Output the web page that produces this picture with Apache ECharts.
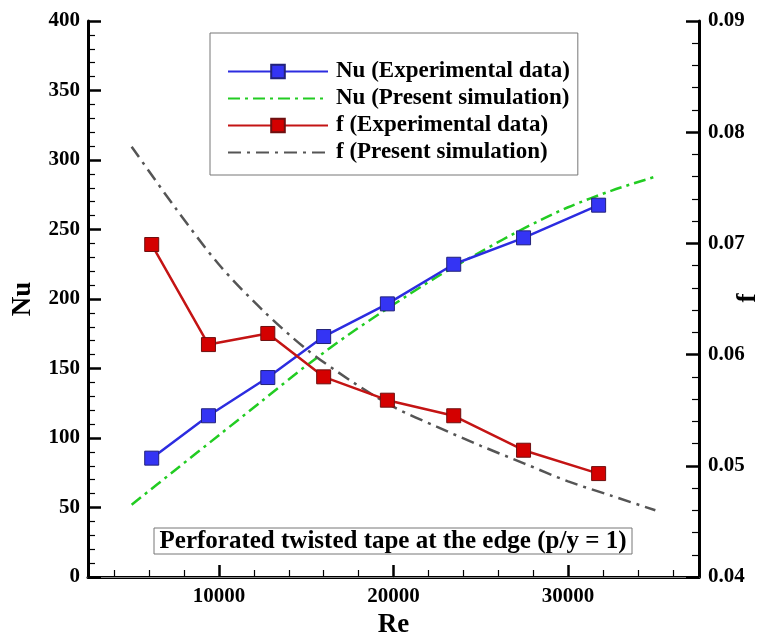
<!DOCTYPE html>
<html>
<head>
<meta charset="utf-8">
<title>Nu / f vs Re</title>
<script src="https://cdn.jsdelivr.net/npm/echarts@6/dist/echarts.min.js"></script>
<style>
html, body { margin: 0; padding: 0; background: #fff; }
#chart { width: 766px; height: 633px; }
</style>
</head>
<body>
<div id="chart"></div>
<script>
// experimental points
var reExp = [6150, 9400, 12800, 16000, 19650, 23450, 27450, 31750];
var nuExp = [85.5, 116, 143.5, 173, 196.5, 225, 244, 267.5];
var fExp = [0.0699, 0.0609, 0.0619, 0.0580, 0.0559, 0.0545, 0.0514, 0.0493];
// simulation curves
var reSim = [5000, 7500, 10000, 12500, 15000, 17500, 20000, 22500, 25000, 27500, 30000, 32500, 35000];
var nuSim = [52, 77, 102, 127, 152, 175, 196, 216, 234, 251, 266, 278, 288];
var fSim = [0.0787, 0.0732, 0.0681, 0.0640, 0.0605, 0.0577, 0.0553, 0.0535, 0.0518, 0.0502, 0.0486, 0.0473, 0.0460];
// axis ticks
var reMajor = [10000, 20000, 30000];
var reMinor = [4000, 6000, 8000, 12000, 14000, 16000, 18000, 22000, 24000, 26000, 28000, 32000, 34000, 36000];
var nuMinor = [10, 20, 30, 40, 60, 70, 80, 90, 110, 120, 130, 140, 160, 170, 180, 190,
	210, 220, 230, 240, 260, 270, 280, 290, 310, 320, 330, 340, 360, 370, 380, 390];
var fMinor = [0.042, 0.044, 0.046, 0.048, 0.052, 0.054, 0.056, 0.058, 0.062, 0.064, 0.066, 0.068,
	0.072, 0.074, 0.076, 0.078, 0.082, 0.084, 0.086, 0.088];

var FONT = '"Liberation Serif", "Times New Roman", serif';

function pairs(xs, ys) {
	var out = [];
	for (var i = 0; i < xs.length; i++) {
		out.push([xs[i], ys[i]]);
	}
	return out;
}

// axis that only draws inner minor ticks
function minorAxis(pos, min, max, values) {
	return {
		type: 'value',
		position: pos,
		min: min,
		max: max,
		axisLine: { show: true, lineStyle: { color: '#000', width: 0.01, opacity: 0 } },
		axisTick: { show: true, inside: true, length: 7, customValues: values, lineStyle: { color: '#000', width: 1.2 } },
		axisLabel: { show: false },
		splitLine: { show: false }
	};
}

var chart = echarts.init(document.getElementById('chart'));

var labelStyle = { color: '#000', fontFamily: FONT, fontWeight: 'bold', fontSize: 21 };
var nameStyle = { color: '#000', fontFamily: FONT, fontWeight: 'bold', fontSize: 27 };

var option = {
	animation: false,
	backgroundColor: '#fff',
	grid: { left: 88, right: 67, top: 21, bottom: 56, containLabel: false, outerBoundsMode: 'none' },
	legend: {
		orient: 'vertical',
		left: 210,
		top: 33,
		padding: [27, 8, 11, 17],
		itemGap: 4,
		itemWidth: 100,
		itemHeight: 17,
		borderColor: '#777',
		borderWidth: 1,
		backgroundColor: '#fff',
		textStyle: { color: '#000', fontFamily: FONT, fontWeight: 'bold', fontSize: 23, lineHeight: 23, padding: [0, 0, 0, 3] },
		data: [
			'Nu (Experimental data)',
			{ name: 'Nu (Present simulation)', itemStyle: { opacity: 0 } },
			'f (Experimental data)',
			{ name: 'f (Present simulation)', itemStyle: { opacity: 0 } }
		]
	},
	xAxis: [{
		type: 'value',
		position: 'bottom',
		min: 2500,
		max: 37500,
		name: 'Re',
		nameLocation: 'middle',
		nameGap: 35,
		nameTextStyle: nameStyle,
		axisLine: { onZero: false, lineStyle: { color: '#000', width: 3 } },
		axisTick: { inside: true, length: 12, customValues: reMajor, lineStyle: { color: '#000', width: 2.5 } },
		axisLabel: Object.assign({ margin: 9, customValues: reMajor, formatter: function(v) { return String(v); } }, labelStyle),
		splitLine: { show: false }
	},
	minorAxis('bottom', 2500, 37500, reMinor),
	{
		type: 'value',
		position: 'top',
		min: 2500,
		max: 37500,
		axisLine: { lineStyle: { color: '#888', width: 1 } },
		axisTick: { show: false },
		axisLabel: { show: false },
		splitLine: { show: false }
	}],
	yAxis: [{
		type: 'value',
		position: 'left',
		min: 0,
		max: 400,
		interval: 50,
		name: 'Nu',
		nameLocation: 'middle',
		nameGap: 51,
		nameTextStyle: nameStyle,
		axisLine: { show: true, onZero: false, lineStyle: { color: '#000', width: 3 } },
		axisTick: { inside: true, length: 13, lineStyle: { color: '#000', width: 2.5 } },
		axisLabel: Object.assign({ margin: 8 }, labelStyle),
		splitLine: { show: false }
	}, {
		type: 'value',
		position: 'right',
		min: 0.04,
		max: 0.09,
		interval: 0.01,
		axisLine: { show: true, onZero: false, lineStyle: { color: '#000', width: 3 } },
		axisTick: { inside: true, length: 13, lineStyle: { color: '#000', width: 2.5 } },
		axisLabel: Object.assign({ margin: 9, formatter: function(v) { return v.toFixed(2); } }, labelStyle),
		splitLine: { show: false }
	},
	minorAxis('left', 0, 400, nuMinor),
	minorAxis('right', 0.04, 0.09, fMinor)
	],
	series: [{
		name: 'Nu (Experimental data)',
		type: 'line',
		yAxisIndex: 0,
		data: pairs(reExp, nuExp),
		symbol: 'rect',
		symbolSize: 14,
		lineStyle: { color: '#2c2ce0', width: 2.5 },
		itemStyle: { color: '#3434f4', borderColor: '#22227a', borderWidth: 1 },
		z: 4
	}, {
		name: 'Nu (Present simulation)',
		type: 'line',
		yAxisIndex: 0,
		data: pairs(reSim, nuSim),
		symbol: 'none',
		smooth: 0.3,
		lineStyle: { color: '#22cc22', width: 2.5, type: [12, 5, 3, 5] },
		itemStyle: { color: '#22cc22' },
		z: 3
	}, {
		name: 'f (Experimental data)',
		type: 'line',
		yAxisIndex: 1,
		data: pairs(reExp, fExp),
		symbol: 'rect',
		symbolSize: 14,
		lineStyle: { color: '#c41414', width: 2.5 },
		itemStyle: { color: '#d40000', borderColor: '#6e1010', borderWidth: 1 },
		z: 4
	}, {
		name: 'f (Present simulation)',
		type: 'line',
		yAxisIndex: 1,
		data: pairs(reSim, fSim),
		symbol: 'none',
		smooth: 0.3,
		lineStyle: { color: '#555', width: 2.5, type: [13, 6, 3, 6] },
		itemStyle: { color: '#555' },
		z: 3
	}],
	graphic: [{
		type: 'group',
		z: 100,
		children: [{
			type: 'rect',
			shape: { x: 154, y: 528, width: 478, height: 26 },
			style: { fill: '#fff', stroke: '#777', lineWidth: 1 }
		}, {
			type: 'text',
			x: 393,
			y: 542,
			style: {
				text: 'Perforated twisted tape at the edge (p/y = 1)',
				fill: '#000',
				font: 'bold 25px ' + FONT,
				align: 'center',
				verticalAlign: 'middle'
			}
		}]
	}, {
		// right axis title
		type: 'text',
		x: 748,
		y: 298,
		rotation: Math.PI / 2,
		style: {
			text: 'f',
			fill: '#000',
			font: 'bold 27px ' + FONT,
			align: 'center',
			verticalAlign: 'middle'
		}
	}]
};

chart.setOption(option);
</script>
</body>
</html>
